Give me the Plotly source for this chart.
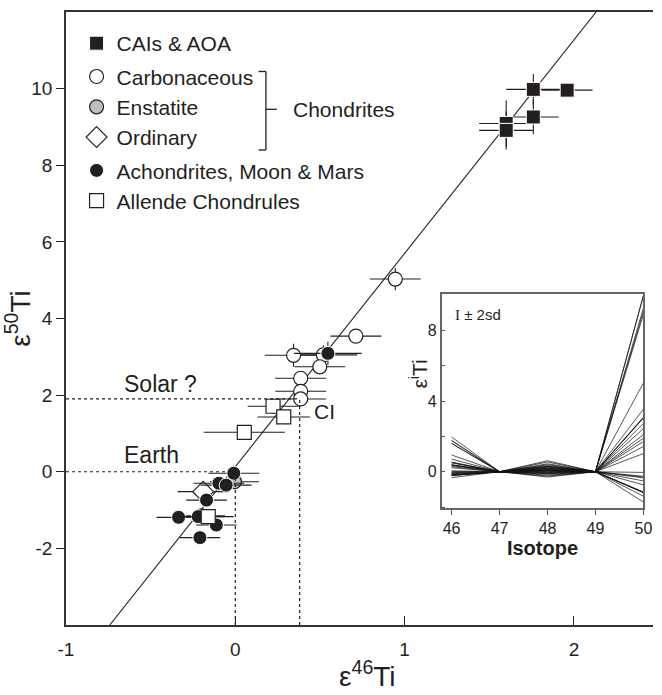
import plotly.graph_objects as go

# ---------------- data ----------------
# CAIs & AOA
cai_e46 = [1.76, 1.96, 1.76, 1.60, 1.60]
cai_e50 = [9.98, 9.96, 9.26, 9.09, 8.91]
cai_e46_err = [0.16, 0.15, 0.15, 0.16, 0.16]
cai_e50_err = [0.40, 0.12, 0.45, 0.60, 0.50]
cai_e48 = [0.55, 0.62, 0.40, 0.30, 0.45]

# Carbonaceous chondrites
carb_e46 = [0.945, 0.712, 0.344, 0.52, 0.499, 0.386, 0.386, 0.386, -0.20]
carb_e50 = [5.03, 3.54, 3.04, 3.05, 2.74, 2.44, 2.10, 1.90, -1.15]
carb_e46_err = [0.15, 0.15, 0.17, 0.20, 0.15, 0.15, 0.15, 0.15, 0.14]
carb_e50_err = [0.29, 0.15, 0.30, 0.25, 0.20, 0.15, 0.15, 0.15, 0.15]
carb_e48 = [0.30, 0.20, 0.35, 0.15, 0.25, 0.10, 0.05, 0.18, -0.05]

# Enstatite chondrites
enst_e46 = [-0.005]
enst_e50 = [-0.26]
enst_e46_err = [0.145]
enst_e50_err = [0.12]
enst_e48 = [-0.10]

# Ordinary chondrites
ord_e46 = [-0.19]
ord_e50 = [-0.52]
ord_e46_err = [0.15]
ord_e50_err = [0.12]
ord_e48 = [0.10]

# Achondrites, Moon & Mars
ach_e46 = [0.547, -0.009, -0.097, -0.054, -0.17, -0.335, -0.219, -0.112, -0.209]
ach_e50 = [3.09, -0.04, -0.30, -0.35, -0.74, -1.19, -1.17, -1.39, -1.72]
ach_e46_err = [0.20, 0.15, 0.15, 0.15, 0.12, 0.13, 0.15, 0.12, 0.12]
ach_e50_err = [0.30, 0.20, 0.15, 0.15, 0.15, 0.15, 0.15, 0.15, 0.15]
ach_e48 = [0.20, -0.25, 0.00, -0.15, 0.05, -0.30, -0.10, 0.08, -0.20]

# Allende chondrules
chon_e46 = [0.053, 0.223, 0.286, -0.16]
chon_e50 = [1.03, 1.71, 1.43, -1.17]
chon_e46_err = [0.24, 0.15, 0.155, 0.15]
chon_e50_err = [0.10, 0.20, 0.15, 0.15]
chon_e48 = [0.12, 0.28, -0.05, 0.02]

# correlation line
LINE_SLOPE = 5.57
LINE_INTERCEPT = 0.13

# reference compositions
EARTH_E46, EARTH_E50 = 0.0, 0.0
CI_E46, CI_E50 = 0.38, 1.90

# axis ticks
X_TICKS = [-1, 0, 1, 2]
X_TICK_LABELS = ["-1", "0", "1", "2"]
Y_TICKS = [-2, 0, 2, 4, 6, 8, 10]
Y_TICK_LABELS = ["-2", "0", "2", "4", "6", "8", "10"]

# inset
ISOTOPES = [46, 47, 48, 49, 50]
INSET_Y_TICKS = [0, 4, 8]

X_RANGE = [-1, 2.467]
Y_RANGE = [-4, 12]

FONT = "Liberation Sans, Arial, Helvetica, sans-serif"
INK = "#231f20"

fig = go.Figure()

def err(arr):
    return dict(type="data", array=arr, visible=True, color=INK, thickness=1.1, width=0)

# correlation line
ly0, ly1 = Y_RANGE
fig.add_trace(go.Scatter(
    x=[(ly0 - LINE_INTERCEPT) / LINE_SLOPE, (ly1 - LINE_INTERCEPT) / LINE_SLOPE],
    y=[ly0, ly1], mode="lines", line=dict(color=INK, width=1.1),
    showlegend=False, hoverinfo="skip"))

series = [
    ("CAIs & AOA", cai_e46, cai_e50, cai_e46_err, cai_e50_err,
     dict(symbol="square", size=14, color=INK, line=dict(color="white", width=1)), "g1"),
    ("Carbonaceous", carb_e46, carb_e50, carb_e46_err, carb_e50_err,
     dict(symbol="circle", size=14, color="white", line=dict(color=INK, width=1.2)), "g2"),
    ("Enstatite", enst_e46, enst_e50, enst_e46_err, enst_e50_err,
     dict(symbol="circle", size=14, color="#bdbdbd", line=dict(color=INK, width=1.2)), "g2"),
    ("Ordinary", ord_e46, ord_e50, ord_e46_err, ord_e50_err,
     dict(symbol="diamond", size=16, color="white", line=dict(color=INK, width=1.2)), "g2"),
    ("Achondrites, Moon & Mars", ach_e46, ach_e50, ach_e46_err, ach_e50_err,
     dict(symbol="circle", size=14, color=INK, line=dict(color="white", width=1)), "g3"),
    ("Allende Chondrules", chon_e46, chon_e50, chon_e46_err, chon_e50_err,
     dict(symbol="square", size=14, color="white", line=dict(color=INK, width=1.2)), "g3"),
]

for name, xs, ys, xe, ye, mk, grp in series:
    fig.add_trace(go.Scatter(
        x=xs, y=ys, mode="markers", name=name, marker=mk,
        error_x=err(xe), error_y=err(ye), legendgroup=grp))

# inset lines
inset_sets = [
    (cai_e46, cai_e48, cai_e50), (carb_e46, carb_e48, carb_e50),
    (enst_e46, enst_e48, enst_e50), (ord_e46, ord_e48, ord_e50),
    (ach_e46, ach_e48, ach_e50), (chon_e46, chon_e48, chon_e50),
]
for e46s, e48s, e50s in inset_sets:
    lx, lyv = [], []
    for a, b, c in zip(e46s, e48s, e50s):
        lx += ISOTOPES + [None]
        lyv += [a, 0, b, 0, c, None]
    fig.add_trace(go.Scatter(
        x=lx, y=lyv, mode="lines", xaxis="x2", yaxis="y2",
        line=dict(color="rgba(20,20,20,0.8)", width=0.9),
        showlegend=False, hoverinfo="skip"))

# dotted reference lines
dot = dict(color=INK, width=1.2, dash="dot")
shapes = [
    dict(type="line", xref="x", yref="y", x0=X_RANGE[0], x1=CI_E46, y0=CI_E50, y1=CI_E50, line=dot),
    dict(type="line", xref="x", yref="y", x0=CI_E46, x1=CI_E46, y0=Y_RANGE[0], y1=CI_E50, line=dot),
    dict(type="line", xref="x", yref="y", x0=X_RANGE[0], x1=EARTH_E46, y0=EARTH_E50, y1=EARTH_E50, line=dot),
    dict(type="line", xref="x", yref="y", x0=EARTH_E46, x1=EARTH_E46, y0=Y_RANGE[0], y1=EARTH_E50, line=dot),
]

# bracket for "Chondrites" (paper coords)
L, T, W, H = 66, 12, 596, 613
def px(xp): return (xp - L) / W
def py(yp): return 1 - (yp - T) / H
br = dict(color=INK, width=1.3)
shapes += [
    dict(type="line", xref="paper", yref="paper", x0=px(269), x1=px(269), y0=py(71.5), y1=py(150), line=br),
    dict(type="line", xref="paper", yref="paper", x0=px(261.5), x1=px(269), y0=py(71.5), y1=py(71.5), line=br),
    dict(type="line", xref="paper", yref="paper", x0=px(261.5), x1=px(269), y0=py(150), y1=py(150), line=br),
    dict(type="line", xref="paper", yref="paper", x0=px(269), x1=px(280), y0=py(109.3), y1=py(109.3), line=br),
]

annotations = [
    dict(text="Chondrites", xref="paper", yref="paper", x=px(294), y=py(109.3),
         xanchor="left", yanchor="middle", showarrow=False, font=dict(size=21, color=INK)),
    dict(text="Solar ?", xref="x", yref="y", x=-0.668, y=2.29, xanchor="left", yanchor="middle",
         showarrow=False, font=dict(size=23, color=INK)),
    dict(text="Earth", xref="x", yref="y", x=-0.668, y=0.43, xanchor="left", yanchor="middle",
         showarrow=False, font=dict(size=23, color=INK)),
    dict(text="CI", xref="x", yref="y", x=0.45, y=1.57, xanchor="left", yanchor="middle",
         showarrow=False, font=dict(size=21, color=INK)),
    dict(text="<span style='font-family:Liberation Serif'>I</span> ± 2sd", xref="x2", yref="y2",
         x=46.03, y=8.87, xanchor="left", yanchor="middle", showarrow=False,
         font=dict(size=15, color=INK)),
    dict(text="ε<sup>i</sup>Ti", xref="paper", yref="paper", x=px(424), y=py(374),
         xanchor="center", yanchor="middle", textangle=-90, showarrow=False,
         font=dict(size=21, color=INK)),
    dict(text="ε<sup>46</sup>Ti", xref="paper", yref="paper", x=px(372), y=py(674),
         xanchor="center", yanchor="middle", showarrow=False,
         font=dict(size=28, color=INK)),
]

fig.update_layout(
    width=662, height=695,
    margin=dict(l=66, r=0, t=12, b=70),
    paper_bgcolor="white", plot_bgcolor="white",
    font=dict(family=FONT, color=INK),
    showlegend=True,
    legend=dict(x=0.018, y=0.982, xanchor="left", yanchor="top",
                font=dict(size=21, color=INK), bgcolor="rgba(0,0,0,0)",
                traceorder="grouped", tracegroupgap=3, itemsizing="trace"),
    xaxis=dict(range=X_RANGE, tickvals=X_TICKS, ticktext=X_TICK_LABELS, ticks="inside", ticklen=9,
               tickwidth=1.2, tickcolor=INK, showline=True, linecolor="#333",
               linewidth=1.5, mirror=True, showgrid=False, zeroline=False,
               tickfont=dict(size=19), ticklabelstandoff=6),
    yaxis=dict(range=Y_RANGE, tickvals=Y_TICKS, ticktext=Y_TICK_LABELS, ticks="outside",
               ticklen=8, tickwidth=1.2, tickcolor=INK, showline=True, linecolor="#333",
               linewidth=1.5, showgrid=False, zeroline=False, tickfont=dict(size=19),
               title=dict(text="ε<sup>50</sup>Ti", font=dict(size=28), standoff=4)),
    yaxis3=dict(range=Y_RANGE, overlaying="y", anchor="x", side="left",
                tickvals=Y_TICKS, ticks="inside", ticklen=9,
                tickwidth=1.2, tickcolor=INK, showticklabels=False, showline=False,
                showgrid=False, zeroline=False),
    xaxis2=dict(domain=[px(447.3), px(652.3)], anchor="y2", range=[45.79, 50.0],
                tickvals=ISOTOPES, ticks="outside", ticklen=5, tickcolor="#555",
                showline=True, linecolor="#666", linewidth=1.5, mirror=True,
                showgrid=False, zeroline=False, tickfont=dict(size=16),
                title=dict(text="<b>Isotope</b>", font=dict(size=20), standoff=4)),
    yaxis2=dict(domain=[py(508.3), py(294.3)], anchor="x2", range=[-2.07, 10.04],
                tickvals=INSET_Y_TICKS, ticks="inside", ticklen=4, tickcolor="#555",
                minor=dict(dtick=2, tick0=0, ticks="inside", ticklen=4, tickcolor="#555"),
                showline=True, linecolor="#666", linewidth=1.5, mirror=True, showgrid=False,
                zeroline=False, tickfont=dict(size=16)),
    shapes=shapes,
    annotations=annotations,
)

fig.write_html("out.html")
